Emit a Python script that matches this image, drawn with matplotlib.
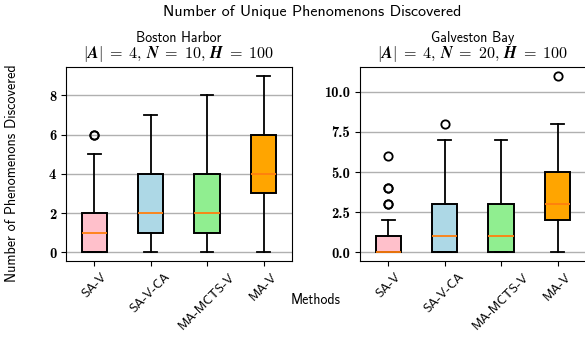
import numpy as np
import matplotlib
matplotlib.use("Agg")
from matplotlib import pyplot as plt

plt.rcParams['mathtext.fontset'] = 'cm'
plt.rcParams['font.family'] = ['cmss10', 'DejaVu Sans']
plt.rcParams['axes.unicode_minus'] = False

# ---DATA---
methods = ["SA-V", "SA-V-CA", "MA-MCTS-V", "MA-V"]
colors = ["pink", "lightblue", "lightgreen", "orange"]

# Boston Harbor box statistics
boston_q1 = [0, 1, 1, 3]
boston_med = [1, 2, 2, 4]
boston_q3 = [2, 4, 4, 6]
boston_lo = [0, 0, 0, 0]
boston_hi = [5, 7, 8, 9]
boston_fliers = [[6, 6], [], [], []]

# Galveston Bay box statistics
galveston_q1 = [0, 0, 0, 2]
galveston_med = [0, 1, 1, 3]
galveston_q3 = [1, 3, 3, 5]
galveston_lo = [0, 0, 0, 0]
galveston_hi = [2, 7, 7, 8]
galveston_fliers = [[3, 3, 4, 4, 6], [8], [], [11]]


def make_stats(q1, med, q3, lo, hi, fliers):
    '''build the stats dicts for ax.bxp'''
    stats = []
    for i in range(len(methods)):
        stats.append(dict(label=methods[i], q1=q1[i], med=med[i], q3=q3[i],
                          whislo=lo[i], whishi=hi[i], fliers=fliers[i]))
    return stats


def draw(ax, stats, name, n):
    '''draw one boxplot panel'''
    bp = ax.bxp(stats, patch_artist=True,
                boxprops=dict(linewidth=1.4, edgecolor="black"),
                whiskerprops=dict(linewidth=1.3),
                capprops=dict(linewidth=1.3),
                medianprops=dict(color="#ff7f0e", linewidth=1.3),
                flierprops=dict(marker="o", markerfacecolor="none",
                                markeredgecolor="black", markersize=6,
                                markeredgewidth=1.3))
    for patch, c in zip(bp["boxes"], colors):
        patch.set_facecolor(c)
    ax.yaxis.grid(True, color="#b0b0b0", linewidth=1)
    ax.set_axisbelow(True)
    ax.tick_params(axis="y", labelfontfamily="cmb10", labelsize=10.5)
    ax.tick_params(axis="x", labelsize=9.5, labelrotation=45)

    # two-line title: place name in sans, then bold math params
    ax.text(0.5, 1.13, name, transform=ax.transAxes, ha="center",
            va="baseline", fontsize=10)
    params = (r"$|\mathbfit{A}|\;\mathbf{=}\;\mathbf{4},\, \mathbfit{N}\;\mathbf{=}\;\mathbf{" + str(n)
              + r"},\, \mathbfit{H}\;\mathbf{=}\;\mathbf{100}$")
    ax.text(0.5, 1.046, params, transform=ax.transAxes, ha="center",
            va="baseline", fontsize=11.6)


fig = plt.figure(figsize=(5.85, 3.43), dpi=100)
ax1 = fig.add_axes([0.1128, 0.239, 0.386, 0.5656])
ax2 = fig.add_axes([0.6154, 0.239, 0.386, 0.5656])

draw(ax1, make_stats(boston_q1, boston_med, boston_q3, boston_lo, boston_hi, boston_fliers),
     "Boston Harbor", 10)
draw(ax2, make_stats(galveston_q1, galveston_med, galveston_q3, galveston_lo, galveston_hi, galveston_fliers),
     "Galveston Bay", 20)

fig.suptitle("Number of Unique Phenomenons Discovered", fontsize=11.5, x=0.533, y=0.985)
fig.text(0.021, 0.496, "Number of Phenomenons Discovered", rotation=90,
         ha="center", va="center", fontsize=10.2)
fig.text(0.54, 0.125, "Methods", ha="center", va="center", fontsize=10)

fig.savefig("out.png", dpi=100)
